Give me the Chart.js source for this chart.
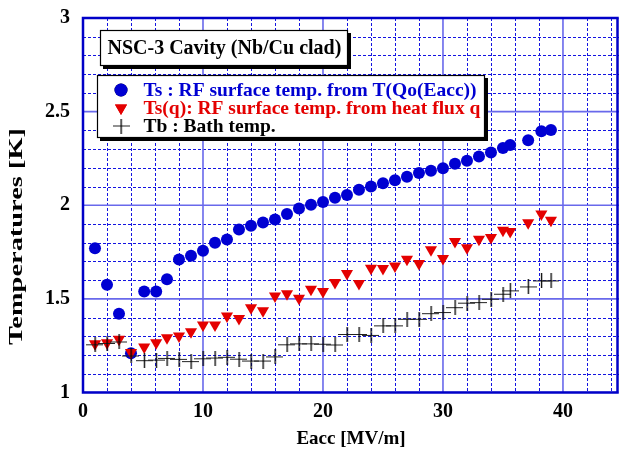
<!DOCTYPE html>
<html>
<head>
<meta charset="utf-8">
<title>NSC-3 Cavity temperatures</title>
<script src="https://cdn.jsdelivr.net/npm/chart.js@4.4.0/dist/chart.umd.min.js"></script>
<style>
  html, body { margin: 0; padding: 0; background: #fff; }
  #wrap { width: 619px; height: 453px; }
</style>
</head>
<body>
<div id="wrap"><canvas id="tempChart" width="619" height="453"></canvas></div>
<script>
// accelerating field, MV/m (shared by all three series)
var eacc = [1, 2, 3, 4, 5.1, 6.1, 7, 8, 9, 10,
            11, 12, 13, 14, 15, 16, 17, 18, 19, 20,
            21, 22, 23, 24, 25, 26, 27, 28, 29, 30,
            31, 32, 33, 34, 35, 35.6, 37.1, 38.2, 39];

// Ts from T(Qo(Eacc))
var tsQo = [1.77, 1.575, 1.42, 1.21, 1.54, 1.54, 1.605, 1.71, 1.73, 1.757,
            1.80, 1.817, 1.87, 1.89, 1.908, 1.924, 1.953, 1.983, 2.003, 2.017,
            2.04, 2.055, 2.083, 2.10, 2.117, 2.133, 2.152, 2.172, 2.184, 2.198,
            2.222, 2.238, 2.26, 2.282, 2.306, 2.322, 2.347, 2.395, 2.402];

// Ts(q) from heat flux
var tsFlux = [1.261, 1.266, 1.284, 1.213, 1.243, 1.266, 1.293, 1.302, 1.324, 1.361,
              1.361, 1.409, 1.395, 1.453, 1.436, 1.516, 1.528, 1.504, 1.552, 1.539,
              1.587, 1.635, 1.582, 1.663, 1.662, 1.675, 1.712, 1.689, 1.762, 1.715,
              1.806, 1.773, 1.819, 1.828, 1.867, 1.86, 1.907, 1.953, 1.92];

// Tb bath temperature
var tBath = [1.255, 1.262, 1.27, 1.195, 1.17, 1.173, 1.182, 1.177, 1.165, 1.18,
             1.184, 1.188, 1.178, 1.168, 1.168, 1.19, 1.255, 1.26, 1.26, 1.258,
             1.254, 1.31, 1.31, 1.305, 1.356, 1.356, 1.391, 1.391, 1.421, 1.427,
             1.453, 1.477, 1.48, 1.498, 1.525, 1.543, 1.564, 1.596, 1.596];

var xTicks = [0, 10, 20, 30, 40];
var yTicks = [1, 1.5, 2, 2.5, 3];
var xMinorStep = 2, yMinorStep = 0.1;

var titleText = 'NSC-3 Cavity (Nb/Cu clad)';
var legendText = ['Ts : RF surface temp. from T(Qo(Eacc))',
                  'Ts(q): RF surface temp. from heat flux q',
                  'Tb : Bath temp.'];

var BLUE = 'rgb(0,0,210)';
var RED = 'rgb(228,0,0)';
var SERIF = '"Liberation Serif", "Times New Roman", "DejaVu Serif", serif';

function toXY(xs, ys) {
  var out = [];
  for (var i = 0; i < xs.length; i++) out.push({x: xs[i], y: ys[i]});
  return out;
}

// wide "+" used for the bath temperature
function makePlus() {
  var cv = document.createElement('canvas');
  cv.width = 17; cv.height = 15;
  var g = cv.getContext('2d');
  g.fillStyle = '#222';
  g.fillRect(0, 7, 17, 1);
  g.fillStyle = '#000';
  g.fillRect(8, 0, 1.3, 15);
  return cv;
}
var plusMark = makePlus();

function drawBox(c, x, y, w, h) {
  c.fillStyle = '#000';
  c.fillRect(x + 3, y + 3, w, h);
  c.fillStyle = '#fff';
  c.fillRect(x, y, w, h);
  c.strokeStyle = '#000'; c.lineWidth = 1.2;
  c.strokeRect(x + 0.5, y + 0.5, w - 1, h - 1);
}

var framePlugin = {
  id: 'frame',
  beforeDatasetsDraw: function(chart) {
    var c = chart.ctx, a = chart.chartArea;
    var xs = chart.scales.x, ys = chart.scales.y;
    var v, p;
    c.save();
    c.beginPath(); c.rect(a.left, a.top, a.right - a.left, a.bottom - a.top); c.clip();

    // minor dashed grid
    c.setLineDash([3, 2]);
    c.lineWidth = 1;
    c.strokeStyle = 'rgb(20,20,225)';
    for (v = xMinorStep; v < xs.max; v += xMinorStep) {
      if (Math.abs(v % 10) < 1e-6) continue;
      p = Math.round(xs.getPixelForValue(v)) + 0.5;
      c.beginPath(); c.moveTo(p, a.top); c.lineTo(p, a.bottom); c.stroke();
    }
    for (v = 1 + yMinorStep; v < ys.max - 1e-6; v += yMinorStep) {
      if (Math.abs((v * 10) % 5) < 1e-6 || Math.abs((v * 10) % 5 - 5) < 1e-6) continue;
      p = Math.round(ys.getPixelForValue(v)) + 0.5;
      c.beginPath(); c.moveTo(a.left, p); c.lineTo(a.right, p); c.stroke();
    }

    // major solid grid
    c.setLineDash([]);
    c.lineWidth = 1.6;
    c.strokeStyle = 'rgb(105,105,235)';
    xTicks.forEach(function(t) {
      p = xs.getPixelForValue(t);
      c.beginPath(); c.moveTo(p, a.top); c.lineTo(p, a.bottom); c.stroke();
    });
    yTicks.forEach(function(t) {
      p = ys.getPixelForValue(t);
      c.beginPath(); c.moveTo(a.left, p); c.lineTo(a.right, p); c.stroke();
    });
    c.restore();

    // plot frame
    c.save();
    c.strokeStyle = 'rgb(0,0,200)';
    c.lineWidth = 2.5;
    c.strokeRect(a.left, a.top, a.right - a.left - 1.5, a.bottom - a.top);
    c.restore();
  },
  afterDraw: function(chart) {
    var c = chart.ctx;
    var H = Chart.helpers;
    c.save();

    // y axis title, drawn stretched along its length
    c.font = 'bold 19px ' + SERIF;
    c.fillStyle = '#000';
    c.textAlign = 'center';
    c.textBaseline = 'middle';
    var tw = c.measureText('Temperatures [K]').width;
    c.save();
    c.translate(17, 236.5);
    c.rotate(-Math.PI / 2);
    c.scale(217 / tw, 1);
    c.fillText('Temperatures [K]', 0, 0);
    c.restore();

    // title box
    drawBox(c, 100, 30, 248, 36);
    c.font = 'bold 20px ' + SERIF;
    c.fillStyle = '#000';
    c.textAlign = 'left';
    c.textBaseline = 'middle';
    c.fillText(titleText, 107.5, 49);

    // legend box
    drawBox(c, 97, 75, 388, 63);
    var rows = [90, 108, 126];
    c.font = 'bold 19.5px ' + SERIF;
    c.fillStyle = BLUE;
    c.fillText(legendText[0], 143.5, rows[0] + 1);
    c.fillStyle = RED;
    c.fillText(legendText[1], 143.5, rows[1] + 1);
    c.fillStyle = '#000';
    c.fillText(legendText[2], 143.5, rows[2] + 1);

    H.drawPoint(c, {pointStyle: 'circle', radius: 6.5, rotation: 0, borderWidth: 0}, 121, rows[0]);
    c.fillStyle = BLUE; c.fill();
    c.fillStyle = RED;
    H.drawPoint(c, {pointStyle: 'triangle', radius: 7, rotation: 180, borderWidth: 0}, 121, rows[1]);
    c.fill();
    c.drawImage(plusMark, 121 - 8.5, rows[2] - 7.5);
    c.restore();
  }
};

function noPadding(s) {
  s.paddingLeft = 0; s.paddingRight = 0;
  s.paddingTop = 0; s.paddingBottom = 0;
}

var ctx = document.getElementById('tempChart').getContext('2d');
var chart = new Chart(ctx, {
  type: 'scatter',
  data: {
    datasets: [{
      label: legendText[0],
      data: toXY(eacc, tsQo),
      pointStyle: 'circle',
      pointRadius: 6,
      pointHoverRadius: 6,
      backgroundColor: BLUE,
      borderColor: BLUE,
      borderWidth: 0,
      order: 3
    }, {
      label: legendText[1],
      data: toXY(eacc, tsFlux),
      pointStyle: 'triangle',
      pointRotation: 180,
      pointRadius: 7,
      pointHoverRadius: 7,
      backgroundColor: RED,
      borderColor: RED,
      borderWidth: 0,
      order: 2
    }, {
      label: legendText[2],
      data: toXY(eacc, tBath),
      pointStyle: plusMark,
      pointRadius: 7,
      pointHoverRadius: 7,
      order: 1
    }]
  },
  options: {
    responsive: false,
    animation: false,
    events: [],
    layout: { autoPadding: false, padding: { top: 18, right: 0, left: 0, bottom: 0 } },
    plugins: {
      legend: { display: false },
      tooltip: { enabled: false }
    },
    scales: {
      x: {
        type: 'linear',
        min: 0,
        max: 44.67,
        grid: { display: false, drawTicks: false },
        border: { display: false },
        afterBuildTicks: function(s) {
          s.ticks = xTicks.map(function(v) { return {value: v}; });
        },
        ticks: {
          color: '#000',
          padding: 7,
          maxRotation: 0,
          autoSkip: false,
          font: { family: SERIF, size: 20, weight: 'bold' },
          callback: function(v) { return String(v); }
        },
        title: {
          display: true,
          text: 'Eacc [MV/m]',
          color: '#000',
          padding: { top: 0, bottom: 3 },
          font: { family: SERIF, size: 19, weight: 'bold' }
        },
        afterFit: function(s) { s.height = 60.5; noPadding(s); }
      },
      y: {
        type: 'linear',
        min: 1,
        max: 3,
        grid: { display: false, drawTicks: false },
        border: { display: false },
        afterBuildTicks: function(s) {
          s.ticks = yTicks.map(function(v) { return {value: v}; });
        },
        ticks: {
          color: '#000',
          padding: 13,
          autoSkip: false,
          font: { family: SERIF, size: 20, weight: 'bold' },
          callback: function(v) { return String(v); }
        },
        afterFit: function(s) { s.width = 83; noPadding(s); }
      }
    }
  },
  plugins: [framePlugin]
});
</script>
</body>
</html>
